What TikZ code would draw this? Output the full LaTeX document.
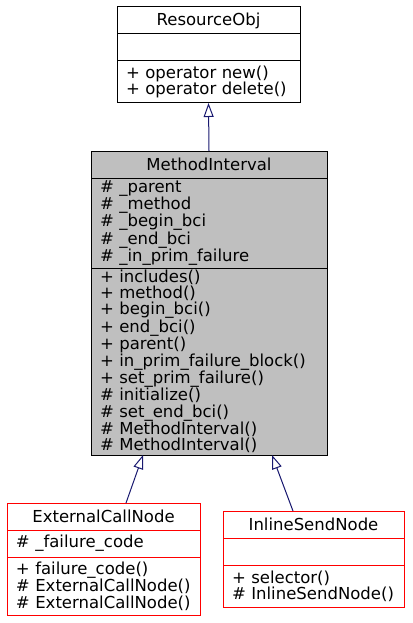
\documentclass[tikz,border=0pt]{standalone}
\usepackage{fontspec}
\setmainfont{DejaVu Sans}
\usepackage{xcolor}
\usetikzlibrary{arrows.meta,positioning}
\definecolor{edgeblue}{HTML}{191970}
\definecolor{classred}{HTML}{FF0000}

\begin{document}
\begin{tikzpicture}[x=1pt,y=-1pt,line width=1pt,
    font=\fontsize{16.5}{16.25}\selectfont,
    titlenode/.style={draw, anchor=north west, outer sep=0pt, inner sep=0pt, minimum height=27pt, align=center},
    listnode/.style={draw, outer sep=0pt, inner xsep=9pt, inner ysep=0pt, align=left},
    inherit/.style={draw=edgeblue, -{Triangle[open,length=14pt,width=10pt]}}]
  \useasboundingbox (0,0) rectangle (412,623);

  % ResourceObj
  \node[titlenode, minimum width=183pt]              (R1) at (117,7) {ResourceObj};
  \node[listnode, below=0pt of R1, text width=165pt, minimum height=27pt] (R2) {};
  \node[listnode, below=0pt of R2, text width=165pt, minimum height=42pt] (R3) {+ operator new()\\+ operator delete()};

  % MethodInterval
  \node[titlenode, fill=gray!50, minimum width=236pt] (M1) at (91,151) {MethodInterval};
  \node[listnode, fill=gray!50, below=0pt of M1, text width=218pt, minimum height=90pt] (M2)
       {\# \_parent\\\# \_method\\\# \_begin\_bci\\\# \_end\_bci\\\# \_in\_prim\_failure};
  \node[listnode, fill=gray!50, below=0pt of M2, text width=218pt, minimum height=187pt] (M3)
       {+ includes()\\+ method()\\+ begin\_bci()\\+ end\_bci()\\+ parent()\\+ in\_prim\_failure\_block()\\+ set\_prim\_failure()\\\# initialize()\\\# set\_end\_bci()\\\# MethodInterval()\\\# MethodInterval()};

  % ExternalCallNode
  \node[titlenode, draw=classred, minimum width=193pt] (E1) at (7,503) {ExternalCallNode};
  \node[listnode, draw=classred, below=0pt of E1, text width=175pt, minimum height=27pt] (E2) {\# \_failure\_code};
  \node[listnode, draw=classred, below=0pt of E2, text width=175pt, minimum height=58pt] (E3)
       {+ failure\_code()\\\# ExternalCallNode()\\\# ExternalCallNode()};

  % InlineSendNode
  \node[titlenode, draw=classred, minimum width=181pt] (I1) at (223,511) {InlineSendNode};
  \node[listnode, draw=classred, below=0pt of I1, text width=163pt, minimum height=27pt] (I2) {};
  \node[listnode, draw=classred, below=0pt of I2, text width=163pt, minimum height=42pt] (I3)
       {+ selector()\\\# InlineSendNode()};

  \draw[inherit] (M1.north) -- (R3.south);
  \draw[inherit] ([xshift=22.5pt]E1.north) -- ([xshift=-66pt]M3.south);
  \draw[inherit] ([xshift=-20.5pt]I1.north) -- ([xshift=63pt]M3.south);
\end{tikzpicture}
\end{document}
